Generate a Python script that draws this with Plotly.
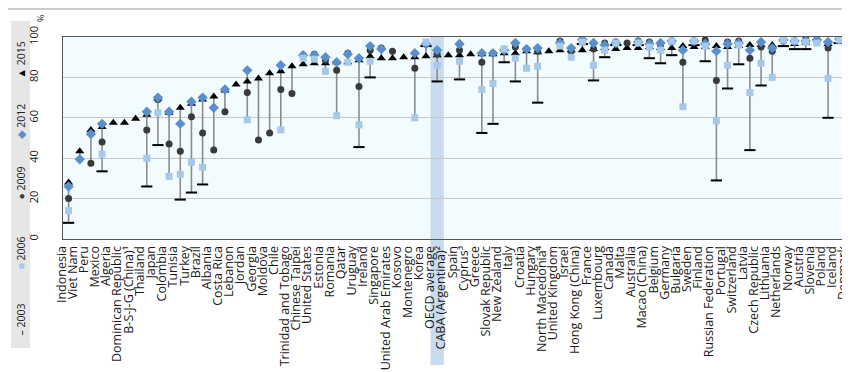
import plotly.graph_objects as go

countries = [
    "Indonesia", "Viet Nam", "Peru", "Mexico", "Algeria", "Dominican Republic",
    "B-S-J-G (China)¹", "Thailand", "Japan", "Colombia", "Tunisia", "Turkey",
    "Brazil", "Albania", "Costa Rica", "Lebanon", "Jordan", "Georgia", "Moldova",
    "Chile", "Trinidad and Tobago", "Chinese Taipei", "United States", "Estonia",
    "Romania", "Qatar", "Uruguay", "Ireland", "Singapore", "United Arab Emirates",
    "Kosovo", "Montenegro", "Korea", "OECD average", "CABA (Argentina)²", "Spain",
    "Cyprus³", "Greece", "Slovak Republic", "New Zealand", "Italy", "Croatia",
    "Hungary", "North Macedonia⁴", "United Kingdom", "Israel", "Hong Kong (China)",
    "France", "Luxembourg", "Canada", "Malta", "Australia", "Macao (China)",
    "Belgium", "Germany", "Bulgaria", "Sweden", "Finland", "Russian Federation",
    "Portugal", "Switzerland", "Latvia", "Czech Republic", "Lithuania",
    "Netherlands", "Norway", "Austria", "Slovenia", "Poland", "Iceland", "Denmark",
]

N = None
y2015 = [28, 43.5, 54, 55.5, 57.5, 57.5, 59.5, 61.5, 69.5, 62.5, 65, 67,
         69, 70.5, 73.5, 76.5, 78, 79.5, 82, 83, 85.5, 86.5, 87, 87,
         87.5, 87.5, 88.5, 90.5, 89.5, 89.5, 90, 90, 90.5, 91, 91, 91,
         91.5, 91.5, 91.5, 92, 92, 93, 92.5, 93, 93.5, 93.5, 93.5,
         94, 94.5, 94, 94.5, 94.5, 95, 94.5, 94.5, 95.5, 95, 95, 95.5,
         95, 95.5, 96, 96, 96, 99, 96.5, 97, 99.5, 96.5, 97.5, 97.5]
y2012 = [26, 39.5, 52, 57, N, N, N, 63, 70, 63, 57, 68,
         70, 65, 74, N, 83.5, N, N, 86, N, 91, 91, 90,
         87.5, 91.5, 89.5, 95.5, 94, N, N, 92, 96.5, 93.5, N, 96.5,
         N, 92, 92, 93.5, 97, 94, 94.5, N, 97, 94.5, 98.8,
         97, 96, 97, N, 97.5, 96.5, 97, 98, 93.5, 98, 96.5, 93,
         96.5, 97, 93.5, 97.5, 94.5, 98.5, 98, 98, 98.5, 97.5, 99, 98.5]
y2009 = [20, N, 37.5, 48, N, N, N, 54, 69, 47, 43.5, 60.5,
         52.5, 44, 63, N, 72.5, 49, 52.5, 74, 72, 91, 91.5, 88.5,
         83.5, 92, 75.5, 93.5, 94.5, 93, N, 84.5, 96.5, 91.5, N, 93.5,
         N, 87.5, 92, 93.5, 95, 94, 93, N, 98, 93, 97.5,
         94, 97, 97.5, 97, 98, 97.5, 96, 97.5, 87.5, 97.5, 98.5, 78.5,
         97.5, 98, 89.5, 95, 93, 98, 97.5, 99, 98, 94.5, 99, 98.5]
y2006 = [14, N, N, 42, N, N, N, 40, 62.5, 31, 32, 38,
         35.5, N, N, N, 59, N, N, 54, N, 89.5, 89, 83,
         61, 87.5, 56.5, 88, N, N, N, 60, 97.5, 86, N, 88,
         N, 74, 77, 94, 89.5, 84.5, 85.5, N, 95.5, 90, 97.5,
         86, 93.5, 97, N, 97, 95, 93.5, 98, 65.5, 98, 95.5, 58.5,
         86, 96, 72.5, 87, 80, 98.5, 98, 97.5, 97, 79.5, 98.5, 98.5]
y2003 = [8, N, N, 33.5, N, N, N, 26, 46.5, N, 19.5, 23,
         27, N, N, N, N, N, N, N, N, N, N, N,
         N, N, 45.5, 80, N, N, N, N, 95.5, 78, N, 79,
         N, 52.5, 57, 87.5, 78, N, 67.5, N, N, N, 96.5,
         78.5, 90, 96, N, 96, 89.5, 87, 91, N, 96, 88, 29,
         74.5, 86.5, 44, 76, N, 95.5, 94, 94, N, 60, 97, 93.5]

y_ticks = [0, 20, 40, 60, 80, 100]
legend_years = ["2015", "2012", "2009", "2006", "2003"]

FONT = "Open Sans"

fig = go.Figure()

# range lines (min to max of available years)
lx, ly = [], []
for i, c in enumerate(countries):
    vals = [v[i] for v in (y2015, y2012, y2009, y2006, y2003) if v[i] is not None]
    if len(vals) > 1:
        lx += [c, c, None]
        ly += [min(vals), max(vals), None]
fig.add_trace(go.Scatter(x=lx, y=ly, mode="lines",
                         line=dict(color="#8c8c8c", width=1.6),
                         hoverinfo="skip", showlegend=False))

fig.add_trace(go.Scatter(x=countries, y=y2003, mode="markers", name="2003",
                         marker=dict(symbol="line-ew", size=8,
                                     line=dict(color="#000000", width=2))))
fig.add_trace(go.Scatter(x=countries, y=y2015, mode="markers", name="2015",
                         marker=dict(symbol="triangle-up", size=8, color="#000000")))
fig.add_trace(go.Scatter(x=countries, y=y2009, mode="markers", name="2009",
                         marker=dict(symbol="circle", size=7, color="#3a3a3a")))
fig.add_trace(go.Scatter(x=countries, y=y2012, mode="markers", name="2012",
                         marker=dict(symbol="diamond", size=8, color="#5a8fcc")))
fig.add_trace(go.Scatter(x=countries, y=y2006, mode="markers", name="2006",
                         marker=dict(symbol="square", size=7, color="#a8c8e8")))

W, H = 850, 372
ml, mr, mt, mb = 55, 2, 29, 141
pw, ph = W - ml - mr, H - mt - mb


def px_x(p):
    return (p - ml) / pw


def px_y(p):
    return (H - mb - p) / ph


nc = len(countries)
oi = countries.index("OECD average")
shapes = [
    dict(type="rect", xref="paper", yref="paper",
         x0=(oi + 0.5 - 0.6) / nc, x1=(oi + 0.5 + 0.6) / nc,
         y0=px_y(357), y1=1, fillcolor="#c9dcee", line=dict(width=0),
         layer="below"),
    dict(type="rect", xref="paper", yref="paper",
         x0=px_x(3), x1=px_x(22), y0=px_y(340), y1=px_y(13),
         fillcolor="#e6e6e6", line=dict(width=0), layer="below"),
    dict(type="line", xref="paper", yref="paper",
         x0=px_x(0), x1=px_x(W), y0=px_y(1), y1=px_y(1),
         line=dict(color="#bdbdbd", width=1.5)),
]

leg_sym = {
    "2015": ("▲", "#000000"),
    "2012": ("◆", "#5a8fcc"),
    "2009": ("●", "#3a3a3a"),
    "2006": ("■", "#a8c8e8"),
    "2003": ("–", "#000000"),
}
leg_y = {"2015": 52, "2012": 113, "2009": 175, "2006": 245, "2003": 312}
annotations = []
for yr in legend_years:
    s, col = leg_sym[yr]
    annotations.append(dict(
        xref="paper", yref="paper", x=px_x(12.5), y=px_y(leg_y[yr]),
        text=f'<span style="color:{col}">{s}</span> {yr}',
        textangle=-90, showarrow=False, xanchor="center", yanchor="middle",
        font=dict(family=FONT, size=10.5, color="#222222")))
annotations.append(dict(
    xref="paper", yref="paper", x=px_x(33), y=px_y(11), text="%",
    textangle=-90, showarrow=False, xanchor="center", yanchor="middle",
    font=dict(family=FONT, size=9, color="#222222")))

fig.update_layout(
    width=W, height=H,
    margin=dict(l=ml, r=mr, t=mt, b=mb, pad=0),
    paper_bgcolor="#ffffff", plot_bgcolor="#f2fbfe",
    showlegend=False,
    shapes=shapes, annotations=annotations,
    font=dict(family=FONT, color="#1a1a1a"),
    xaxis=dict(type="category", categoryorder="array", categoryarray=countries,
               tickmode="array", tickvals=countries, ticktext=countries,
               range=[-0.5, nc - 0.5], tickangle=-90, showgrid=False,
               ticklabelshift=-7, ticklabelstandoff=1,
               tickfont=dict(family=FONT, size=12.5, color="#1a1a1a"),
               showline=True, mirror=True, linecolor="#555555", linewidth=1,
               ticks="", fixedrange=True),
    yaxis=dict(range=[0, 100], tickvals=y_ticks, ticktext=[str(t) for t in y_ticks],
               tickangle=-90, showgrid=True, gridcolor="#c8c8c8", gridwidth=1,
               zeroline=False, showline=True, mirror=True, linecolor="#555555",
               linewidth=1, ticks="", ticklabelstandoff=20,
               tickfont=dict(family=FONT, size=11, color="#1a1a1a")),
)

fig.write_html("out.html")
